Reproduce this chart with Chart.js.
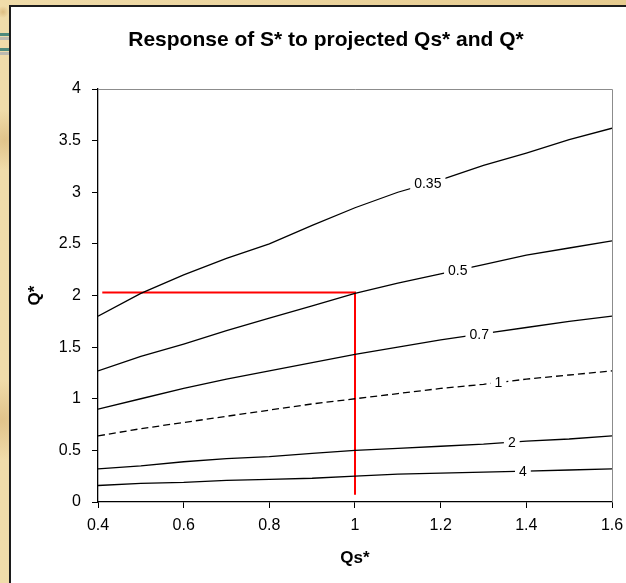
<!DOCTYPE html>
<html>
<head>
<meta charset="utf-8">
<title>Response of S* to projected Qs* and Q*</title>
<script src="https://cdn.jsdelivr.net/npm/chart.js@4.4.1/dist/chart.umd.min.js"></script>
<style>
html, body { margin: 0; padding: 0; }
body {
    width: 626px; height: 583px; overflow: hidden; position: relative;
    background-color: #ebd39d;
    background-image:
        radial-gradient(circle at 3px 12px, rgba(196,150,80,0.45) 0, transparent 6px),
        radial-gradient(circle at 5px 140px, rgba(196,150,80,0.35) 0, transparent 30px),
        radial-gradient(circle at 2px 420px, rgba(196,150,80,0.35) 0, transparent 40px),
        linear-gradient(90deg, #f0dcaa, #e6cb8f);
}
#panel {
    position: absolute; left: 9px; top: 5px; right: 0; bottom: 0;
    background: #fff;
    border-left: 2px solid #1c1c1c;
    border-top: 2px solid #1c1c1c;
}
.stripe { position: absolute; left: 0; width: 9px; height: 3px; }
canvas { position: absolute; left: 0; top: 0; }
</style>
</head>
<body>
<div class="stripe" style="top:33px;background:#4f8a7c"></div>
<div class="stripe" style="top:37px;background:#bdbab0"></div>
<div class="stripe" style="top:48px;background:#4f8a7c"></div>
<div class="stripe" style="top:52px;background:#bdbab0"></div>
<div id="panel"></div>
<canvas id="chart" width="626" height="583"></canvas>
<script>
// values
const qsValues = [0.4, 0.5, 0.6, 0.7, 0.8, 0.9, 1.0, 1.1, 1.2, 1.3, 1.4, 1.5, 1.6];
const curveS035 = [1.80, 2.02, 2.20, 2.36, 2.50, 2.68, 2.85, 3.00, 3.12, 3.26, 3.38, 3.51, 3.62];
const curveS05  = [1.27, 1.41, 1.53, 1.66, 1.78, 1.90, 2.02, 2.12, 2.21, 2.30, 2.39, 2.46, 2.53];
const curveS07  = [0.90, 1.00, 1.10, 1.19, 1.27, 1.35, 1.43, 1.50, 1.57, 1.63, 1.69, 1.75, 1.80];
const curveS1   = [0.64, 0.71, 0.77, 0.83, 0.89, 0.95, 1.00, 1.05, 1.10, 1.14, 1.19, 1.23, 1.27];
const curveS2   = [0.32, 0.35, 0.39, 0.42, 0.44, 0.47, 0.50, 0.52, 0.54, 0.56, 0.59, 0.61, 0.64];
const curveS4   = [0.16, 0.18, 0.19, 0.21, 0.22, 0.23, 0.25, 0.27, 0.28, 0.29, 0.30, 0.31, 0.32];

const curveLabels = ['0.35', '0.5', '0.7', '1', '2', '4'];
const labelQs = [1.17, 1.24, 1.29, 1.335, 1.366, 1.392];

// the red read-off lines
const markerQs = [0.41, 1.0, 1.0];
const markerQ = [2.03, 2.03, 0.07];

const xTicks = [0.4, 0.6, 0.8, 1.0, 1.2, 1.4, 1.6];
const xTickLabels = ['0.4', '0.6', '0.8', '1', '1.2', '1.4', '1.6'];
const yTicks = [0, 0.5, 1, 1.5, 2, 2.5, 3, 3.5, 4];
const yTickLabels = ['0', '0.5', '1', '1.5', '2', '2.5', '3', '3.5', '4'];

const FONT = 'Arial, "Liberation Sans", sans-serif';
const allCurves = [curveS035, curveS05, curveS07, curveS1, curveS2, curveS4];

function curveDataset(values, label, dashed) {
    return {
        label: label,
        data: qsValues.map((x, i) => ({ x: x, y: values[i] })),
        borderColor: '#000',
        borderWidth: 1.3,
        borderDash: dashed ? [7, 4] : [],
        pointRadius: 0,
        showLine: true,
        fill: false
    };
}

const datasets = allCurves.map((c, i) => curveDataset(c, curveLabels[i], curveLabels[i] === '1'));
datasets.push({
    label: 'marker',
    data: markerQs.map((x, i) => ({ x: x, y: markerQ[i] })),
    borderColor: '#ff0000',
    borderWidth: 2,
    pointRadius: 0,
    showLine: true,
    fill: false
});

// labels sit on the curves with a white gap behind them
const curveLabelPlugin = {
    id: 'curveLabels',
    afterDatasetsDraw(chart) {
        const ctx = chart.ctx;
        const xs = chart.scales.x, ys = chart.scales.y;
        ctx.save();
        ctx.font = '14px ' + FONT;
        ctx.textAlign = 'center';
        ctx.textBaseline = 'middle';
        allCurves.forEach((vals, i) => {
            const q = labelQs[i];
            let k = 0;
            while (k < qsValues.length - 2 && qsValues[k + 1] < q) k++;
            const t = (q - qsValues[k]) / (qsValues[k + 1] - qsValues[k]);
            const v = vals[k] + t * (vals[k + 1] - vals[k]);
            const px = xs.getPixelForValue(q), py = ys.getPixelForValue(v);
            const w = ctx.measureText(curveLabels[i]).width;
            ctx.fillStyle = '#fff';
            ctx.fillRect(px - w / 2 - 4, py - 8, w + 8, 16);
            ctx.fillStyle = '#000';
            ctx.fillText(curveLabels[i], px, py + 1);
        });
        ctx.restore();
    },
    afterDraw(chart) {
        const ctx = chart.ctx, a = chart.chartArea;
        ctx.save();
        ctx.strokeStyle = '#8c8c8c';
        ctx.lineWidth = 1;
        ctx.beginPath();
        ctx.moveTo(a.left, a.top + 0.5);
        ctx.lineTo(a.right + 0.5, a.top + 0.5);
        ctx.lineTo(a.right + 0.5, a.bottom);
        ctx.stroke();
        // title
        ctx.fillStyle = '#000';
        ctx.font = 'bold 21px ' + FONT;
        ctx.textAlign = 'center';
        ctx.textBaseline = 'middle';
        ctx.fillText('Response of S* to projected Qs* and Q*', 326, 40);
        ctx.restore();
    }
};

new Chart(document.getElementById('chart'), {
    type: 'scatter',
    data: { datasets: datasets },
    plugins: [curveLabelPlugin],
    options: {
        responsive: false,
        animation: false,
        layout: { padding: { top: 89, right: 14, left: 0, bottom: 0 } },
        plugins: {
            legend: { display: false },
            tooltip: { enabled: false },
            title: { display: false }
        },
        scales: {
            x: {
                type: 'linear',
                min: 0.4,
                max: 1.6,
                afterBuildTicks: s => { s.ticks = xTicks.map(v => ({ value: v })); },
                afterFit: s => { s.height = 81; s.paddingLeft = 0; s.paddingRight = 0; },
                ticks: {
                    color: '#000',
                    font: { family: FONT, size: 16 },
                    padding: 8,
                    maxRotation: 0,
                    callback: (v, i) => xTickLabels[i]
                },
                grid: { drawOnChartArea: false, drawTicks: true, tickLength: 6, color: '#000' },
                border: { color: '#000', width: 1.3 },
                title: {
                    display: true,
                    text: 'Qs*',
                    color: '#000',
                    font: { family: FONT, size: 17, weight: 'bold' },
                    padding: { top: 0, bottom: 14 }
                }
            },
            y: {
                type: 'linear',
                min: 0,
                max: 4,
                afterBuildTicks: s => { s.ticks = yTicks.map(v => ({ value: v })); },
                afterFit: s => { s.width = 98; s.paddingTop = 0; s.paddingBottom = 0; },
                ticks: {
                    color: '#000',
                    font: { family: FONT, size: 16 },
                    padding: 11,
                    callback: (v, i) => yTickLabels[i]
                },
                grid: { drawOnChartArea: false, drawTicks: true, tickLength: 6, color: '#000' },
                border: { color: '#000', width: 1.3 },
                title: {
                    display: true,
                    text: 'Q*',
                    color: '#000',
                    font: { family: FONT, size: 17, weight: 'bold' },
                    padding: { top: 25, bottom: 0 }
                }
            }
        }
    }
});
</script>
</body>
</html>
